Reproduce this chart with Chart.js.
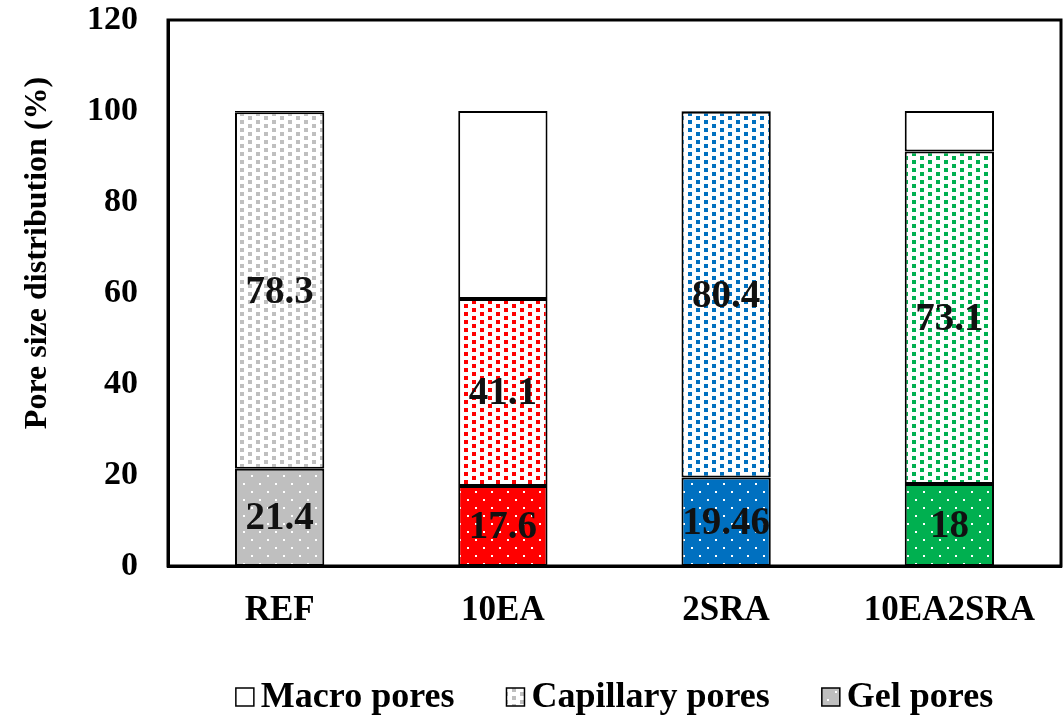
<!DOCTYPE html>
<html>
<head>
<meta charset="utf-8">
<script src="https://cdn.jsdelivr.net/npm/chart.js@4.4.1/dist/chart.umd.min.js"></script>
<style>
    html, body { margin: 0; padding: 0; background: #fff; }
</style>
</head>
<body>
<canvas id="poreChart" width="1064" height="719"></canvas>
<script>
const categories = ['REF', '10EA', '2SRA', '10EA2SRA'];
const gelPores = [21.4, 17.6, 19.46, 18];
const capillaryPores = [78.3, 41.1, 80.4, 73.1];
const macroPores = [0.3, 41.3, 0.14, 8.9];
const yMin = 0, yMax = 120, yStep = 20;
const barColors = ['#BFBFBF', '#FF0000', '#0070C0', '#00B050'];
const legendOrder = ['Macro pores', 'Capillary pores', 'Gel pores'];

const FONT = '"Liberation Serif", "Times New Roman", serif';

// small coloured squares, staggered, on white
function checkPattern(color) {
    const c = document.createElement('canvas');
    c.width = 16; c.height = 8;
    const g = c.getContext('2d');
    g.fillStyle = '#fff';
    g.fillRect(0, 0, 16, 8);
    g.fillStyle = color;
    g.fillRect(0, 0, 4, 4);
    g.fillRect(8, 4, 4, 4);
    return g.createPattern(c, 'repeat');
}

// solid colour with small white dots
function dotPattern(color) {
    const c = document.createElement('canvas');
    c.width = 16; c.height = 16;
    const g = c.getContext('2d');
    g.fillStyle = color;
    g.fillRect(0, 0, 16, 16);
    g.fillStyle = '#fff';
    g.fillRect(3, 3, 2, 2);
    g.fillRect(11, 11, 2, 2);
    return g.createPattern(c, 'repeat');
}

const capFills = barColors.map(checkPattern);
const gelFills = barColors.map(dotPattern);

// segment labels, box round the plot, y title and legend
const extrasPlugin = {
    id: 'extras',
    afterDatasetsDraw(chart) {
        const ctx = chart.ctx;
        ctx.save();
        ctx.font = 'bold 39px ' + FONT;
        ctx.fillStyle = '#111';
        ctx.textAlign = 'center';
        ctx.textBaseline = 'middle';
        [0, 1].forEach(di => {
            const meta = chart.getDatasetMeta(di);
            meta.data.forEach((bar, i) => {
                const v = chart.data.datasets[di].data[i];
                const p = bar.getProps(['x', 'y', 'base'], true);
                ctx.fillText(String(v), p.x, (p.y + p.base) / 2 + 2);
            });
        });
        ctx.restore();
    },
    afterDraw(chart) {
        const ctx = chart.ctx;
        const a = chart.chartArea;
        ctx.save();
        ctx.strokeStyle = '#000';
        ctx.lineWidth = 3;
        ctx.strokeRect(a.left, a.top, a.right - a.left, a.bottom - a.top);

        // y axis title
        ctx.save();
        ctx.translate(38, 253);
        ctx.rotate(-Math.PI / 2);
        ctx.font = 'bold 32px ' + FONT;
        ctx.fillStyle = '#000';
        ctx.textAlign = 'center';
        ctx.textBaseline = 'middle';
        ctx.fillText('Pore size distribution (%)', 0, 0);
        ctx.restore();

        // legend, centred under the plot
        ctx.font = 'bold 36px ' + FONT;
        ctx.textBaseline = 'middle';
        ctx.textAlign = 'left';
        const box = 18, gap = 7, itemGap = 52, cy = 697;
        const items = legendOrder.map(name => {
            const ds = chart.data.datasets.find(d => d.label === name);
            const fill = Array.isArray(ds.backgroundColor) ? ds.backgroundColor[0] : ds.backgroundColor;
            return { name, fill, w: box + gap + ctx.measureText(name).width };
        });
        const total = items.reduce((s, it) => s + it.w, 0) + itemGap * (items.length - 1);
        let x = (a.left + a.right) / 2 - total / 2;
        items.forEach(it => {
            ctx.fillStyle = it.fill;
            ctx.fillRect(x, cy - box / 2, box, box);
            ctx.lineWidth = 1.5;
            ctx.strokeStyle = '#000';
            ctx.strokeRect(x, cy - box / 2, box, box);
            ctx.fillStyle = '#000';
            ctx.fillText(it.name, x + box + gap, cy + 1);
            x += it.w + itemGap;
        });
        ctx.restore();
    }
};

const ctx = document.getElementById('poreChart').getContext('2d');
const poreChart = new Chart(ctx, {
    type: 'bar',
    data: {
        labels: categories,
        datasets: [
            {
                label: 'Gel pores',
                data: gelPores,
                backgroundColor: gelFills,
                borderColor: '#000',
                borderWidth: 2,
                borderSkipped: false
            },
            {
                label: 'Capillary pores',
                data: capillaryPores,
                backgroundColor: capFills,
                borderColor: '#000',
                borderWidth: 2,
                borderSkipped: false
            },
            {
                label: 'Macro pores',
                data: macroPores,
                backgroundColor: '#fff',
                borderColor: '#000',
                borderWidth: 2,
                borderSkipped: false
            }
        ]
    },
    options: {
        responsive: false,
        animation: false,
        layout: { padding: { top: 20, right: 3, left: 0, bottom: 53 } },
        datasets: {
            bar: { categoryPercentage: 1, barPercentage: 0.4 }
        },
        scales: {
            x: {
                stacked: true,
                grid: { display: false, drawTicks: false },
                border: { display: true, color: '#000', width: 3 },
                ticks: { color: '#000', font: { family: FONT, size: 35, weight: 'bold' }, padding: 24 },
                afterFit: s => { s.height = 100; }
            },
            y: {
                stacked: true,
                min: yMin,
                max: yMax,
                grid: { display: false, drawTicks: false },
                border: { display: true, color: '#000', width: 3 },
                ticks: { stepSize: yStep, color: '#000', font: { family: FONT, size: 34, weight: 'bold' }, padding: 30 },
                afterFit: s => { s.width = 168; s.paddingTop = 0; s.paddingBottom = 0; }
            }
        },
        plugins: {
            tooltip: { enabled: false },
            legend: { display: false }
        }
    },
    plugins: [extrasPlugin]
});
</script>
</body>
</html>
